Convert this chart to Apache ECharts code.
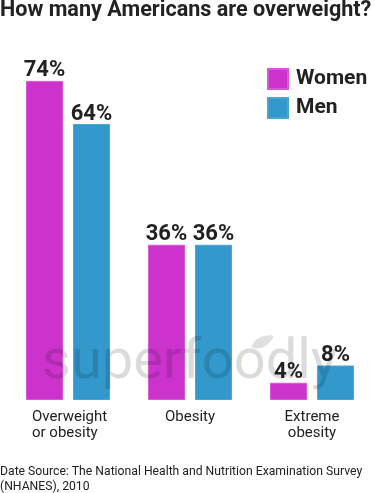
<!DOCTYPE html>
<html>
<head>
<meta charset="utf-8">
<script src="https://cdn.jsdelivr.net/npm/echarts@6/dist/echarts.min.js"></script>
<style>
  html, body { margin: 0; padding: 0; background: #fff; }
  #main { width: 375px; height: 493px; }
</style>
</head>
<body>
<div id="main"></div>
<script>
var categories = ['Overweight\nor obesity', 'Obesity', 'Extreme\nobesity'];
var women = [74, 36, 4];
var men = [64, 36, 8];

var chartDom = document.getElementById('main');
var myChart = echarts.init(chartDom);
var option;

var font = 'Roboto, "Noto Sans", sans-serif';
var dark = '#222';

var valueLabel = {
  show: true,
  position: 'top',
  distance: -1,
  formatter: '{c}%',
  color: dark,
  fontFamily: font,
  fontWeight: 'bold',
  fontSize: 22
};

option = {
  backgroundColor: '#fff',
  animation: false,
  title: [
    {
      text: 'How many Americans are overweight?',
      left: 0,
      top: 0,
      padding: 0,
      textStyle: { color: dark, fontFamily: font, fontWeight: 'bold', fontSize: 21.6 }
    },
    {
      text: 'Date Source: The National Health and Nutrition Examination Survey\n(NHANES), 2010',
      left: 0,
      top: 464,
      padding: 0,
      textStyle: { color: dark, fontFamily: font, fontWeight: 'normal', fontSize: 12.2, lineHeight: 15 }
    }
  ],
  legend: {
    orient: 'vertical',
    left: 267,
    top: 68,
    padding: 0,
    itemWidth: 20,
    itemHeight: 20,
    itemGap: 7,
    icon: 'rect',
    textStyle: { color: dark, fontFamily: font, fontWeight: 'bold', fontSize: 21, padding: [0, 0, 0, 3] },
    data: ['Women', 'Men']
  },
  grid: { left: 7, right: 2, top: 55, bottom: 93 },
  xAxis: {
    type: 'category',
    data: categories,
    axisLine: { show: false },
    axisTick: { show: false },
    axisLabel: {
      color: dark,
      fontFamily: font,
      fontSize: 15,
      lineHeight: 16,
      margin: 9,
      interval: 0,
      formatter: function (value, idx) {
        // first label is left aligned inside its block
        if (idx === 0) {
          return value.split('\n').map(function (s) { return '{l|' + s + '}'; }).join('\n');
        }
        return value;
      },
      rich: {
        l: { width: 72, align: 'left', fontSize: 15, lineHeight: 16, fontFamily: font, color: dark }
      }
    }
  },
  yAxis: {
    type: 'value',
    min: 0,
    max: 80,
    show: false,
    splitLine: { show: false }
  },
  graphic: [
    {
      type: 'text',
      left: 42,
      top: 336,
      z: 100,
      silent: true,
      style: {
        text: 'superfoodly',
        fontFamily: font,
        fontSize: 56,
        fill: 'rgba(0,0,0,0.14)'
      }
    },
    {
      type: 'polygon',
      z: 100,
      silent: true,
      shape: {
        points: [[252, 347], [256, 340], [264, 336], [273, 336], [269, 343], [261, 348]],
        smooth: 0.4
      },
      style: { fill: 'rgba(0,0,0,0.12)' }
    }
  ],
  series: [
    {
      name: 'Women',
      type: 'bar',
      data: women,
      barWidth: 37,
      barGap: '27%',
      itemStyle: { color: '#cc33cc', borderColor: '#d955d9', borderWidth: 1 },
      label: valueLabel
    },
    {
      name: 'Men',
      type: 'bar',
      data: men,
      barWidth: 37,
      itemStyle: { color: '#3399cc', borderColor: '#4ba5d4', borderWidth: 1 },
      label: valueLabel
    }
  ]
};

option && myChart.setOption(option);
window.onresize = function () {
  myChart.resize();
};
</script>
</body>
</html>
